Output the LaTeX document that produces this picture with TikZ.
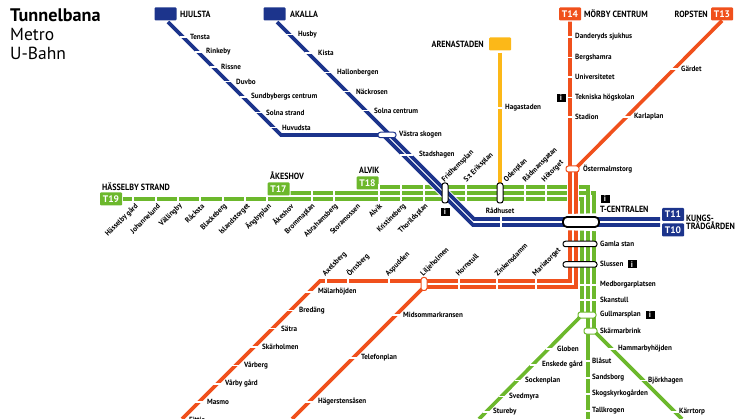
\documentclass[tikz,border=0pt]{standalone}
\usepackage{fontspec}
\setmainfont{PT Sans}
\newfontfamily\narrowfont[FakeStretch=0.9]{PT Sans}
\newfontfamily\stationfont[FakeStretch=0.95]{PT Sans}
\usetikzlibrary{positioning,calc}
\definecolor{softblue}{RGB}{28,52,140}
\definecolor{softgreen}{RGB}{108,184,44}
\definecolor{softred}{RGB}{240,80,28}
\definecolor{softyellow}{RGB}{252,184,24}
\tikzset{
  metro/.style={line width=3.6pt},
  casing/.style={white,line width=5.6pt},
  tick/.style={white,line width=1.1pt},
  stn/.style={font=\stationfont\fontsize{7.5}{8}\selectfont\bfseries,inner sep=0pt,text=black},
  term/.style={font=\narrowfont\fontsize{9}{9}\selectfont\bfseries,inner sep=0pt,text=black},
  tbox/.style={rounded corners=1pt,minimum width=22pt,minimum height=13pt,inner sep=0pt,
    text=white,font=\fontsize{9.5}{10}\selectfont\bfseries},
  capsule/.style={draw=black,fill=white,line width=1pt,rounded corners=2.4pt,inner sep=0pt},
  infoicon/.style={fill=black,text=white,minimum width=9pt,minimum height=8pt,inner sep=0pt,
    font=\fontsize{8}{8}\selectfont\bfseries}
}
\begin{document}
\begin{tikzpicture}[x=1pt,y=-1pt]
\useasboundingbox (0,0) rectangle (746,419);

% Title
\node[anchor=west,inner sep=0pt,font=\fontsize{18.2}{20}\selectfont\bfseries] (title) at (10,15) {Tunnelbana};
\node[anchor=west,inner sep=0pt,font=\fontsize{17.5}{20}\selectfont] (title2) at (10,34) {Metro};
\node[anchor=west,inner sep=0pt,font=\fontsize{17.5}{20}\selectfont] (title3) at (10,53) {U-Bahn};

% End stations
\node[tbox,fill=softblue] (hjulsta) at (165.5,14) {};
\node[tbox,fill=softblue] (akalla) at (274.5,14) {};
\node[tbox,fill=softyellow] (arena) at (500,44) {};
\node[tbox,fill=softred] (t14) at (570,14) {T14};
\node[tbox,fill=softred] (t13) at (722,14) {T13};
\node[tbox,fill=softgreen] (t19) at (111,199) {T19};
\node[tbox,fill=softgreen] (t17) at (278.5,189) {T17};
\node[tbox,fill=softgreen] (t18) at (367.5,183) {T18};
\node[tbox,fill=softblue] (t11) at (673,214.5) {T11};
\node[tbox,fill=softblue] (t10) at (673,230) {T10};

% Bends
\coordinate (hjA) at (168,22);
\coordinate (hjB) at (281,135);
\coordinate (hjC) at (383,135);
\coordinate (hjD) at (473,225);
\coordinate (akA) at (277,22);
\coordinate (akB) at (474,219);
\coordinate (gnA) at (588,187);
\coordinate (gnB) at (594,193);
\coordinate (gnC) at (582,199);
\coordinate (gnD) at (582,315);
\coordinate (gnE) at (588,315);
\coordinate (gnF) at (594,331);
\coordinate (gnG) at (479,419);
\coordinate (gnH) at (588,419);
\coordinate (gnI) at (682,419);
\coordinate (redA) at (570,281);
\coordinate (redB) at (576,287);
\coordinate (redC) at (320,281);
\coordinate (redD) at (182,419);
\coordinate (redE) at (424,287);
\coordinate (redF) at (292,419);
\coordinate (redG) at (576,168);

% Green lines
\draw[softgreen,metro] (t19.east) ++(1,0) -- (gnC) -- (gnD) -- (gnG);
\draw[softgreen,metro] (t17.east) ++(1,4) -- (gnB) -- (gnF) -- (gnI);
\draw[casing,line width=5pt] (588,190) -- (588,197);
\draw[softgreen,metro] (t18.east) ++(1,4) -- (gnA) -- (gnE) -- (gnH);

% Yellow line
\draw[softyellow,metro] (arena.south) ++(0,2) -- (500,185);

% Green and yellow station gaps
\foreach \gx in {133,156,178,200,223,245,267} \draw[tick] (\gx,196) -- (\gx,202);
\foreach \gx in {312,334} \draw[tick] (\gx,190) -- (\gx,202);
\foreach \gx in {379,401,424,466,525,546} \draw[tick] (\gx,184.5) -- (\gx,202);
\foreach \gy in {285,300} \draw[tick] (579,\gy) -- (597,\gy);
\draw[tick] (497,108) -- (503,108);

% Red lines
\draw[casing] (570,180) -- (570,278);
\draw[casing] (576,172) -- (576,284);
\draw[softred,metro] (t14.south) ++(0,1) -- (redA) -- (redC) -- (redD);
\draw[softred,metro] (t13.south) -- (redG) -- (redB) -- (redE) -- (redF);

% Red station gaps
\foreach \gx in {326,348,389} \draw[tick] (\gx,278) -- (\gx,284);
\foreach \gx in {459,497,536} \draw[tick] (\gx,278) -- (\gx,290);

% Blue lines
\draw[casing] (akA) ++(150,150) -- (akB) -- (t11.west);
\draw[casing] (hjC) ++(40,40) -- (hjD) -- (t10.west);
\draw[softblue,metro] (hjulsta) ++(2.5,8) -- (hjB) -- (hjC) -- (hjD) -- (660,225);
\draw[softblue,metro] (akalla) ++(2.5,8) -- (akB) -- (660,219);
\draw[tick] (400,155) -- (413,155);
\draw[tick] (501,216) -- (501,228);

% Stations on the Hjulsta branch
\foreach \sx/\sy/\sname [count=\i] in {190/37/Tensta,206/52/Rinkeby,221/67/Rissne,236/81.5/Duvbo,
    251/97/Sundbybergs centrum,266/112.5/Solna strand,282/127.5/Huvudsta}{
  \pgfmathsetmacro\tx{146+\sy}
  \draw[tick] (\tx-3.5,\sy) -- (\tx+5,\sy);
  \node[stn,anchor=west] (hj\i) at (\sx,\sy) {\sname};
}
% Stations on the Akalla branch
\foreach \sx/\sy/\sname [count=\i] in {298/34.5/Husby,318/53/Kista,337/72.5/Hallonbergen,356/91.5/Näckrosen,374/110.5/Solna centrum}{
  \pgfmathsetmacro\tx{255+\sy}
  \draw[tick] (\tx-3.5,\sy) -- (\tx+5,\sy);
  \node[stn,anchor=west] (ak\i) at (\sx,\sy) {\sname};
}
\node[stn,anchor=west] (vastra) at (399,135) {Västra skogen};
\node[stn,anchor=west] (stadshagen) at (419,155) {Stadshagen};
\node[stn] (radhuset) at (500,211) {Rådhuset};

% Stations T14
\foreach \sy/\sname [count=\i] in {37/Danderyds sjukhus,57.5/Bergshamra,77/Universitetet,97.5/Tekniska högskolan,117/Stadion}{
  \draw[tick] (567,\sy) -- (574,\sy);
  \node[stn,anchor=west] (mo\i) at (575,\sy) {\sname};
}
\node[stn,anchor=west] (haga) at (505,108) {Hagastaden};
% Stations T13
\foreach \sx/\sy/\sname [count=\i] in {681/69/Gärdet,634/117/Karlaplan}{
  \pgfmathsetmacro\tx{743-\sy}
  \draw[tick] (\tx-4,\sy) -- (\tx+5,\sy);
  \node[stn,anchor=west] (ro\i) at (\sx,\sy) {\sname};
}
\node[stn,anchor=west] (ostermalm) at (583,169) {Östermalmstorg};

% Green stations, west
\foreach \sx/\sname [count=\i] in {137/Hässelby gård,159/Johannelund,181/Vällingby,203/Råcksta,226/Blackeberg,249/Islandstorget,270/Ängbyplan,
    292/Åkeshov,314/Brommaplan,337/Abrahamsberg,359/Storamossen,381/Alvik,405/Kristineberg,427/Thorildsplan}{
  \node[stn,anchor=east,rotate=45] (gn\i) at (\sx,205) {\sname};
}
\foreach \sx/\sname [count=\i] in {443/Fridhemsplan,465/S:t Eriksplan,505/Odenplan,524/Rådmansgatan,543/Hötorget}{
  \node[stn,anchor=west,rotate=45] (in\i) at (\sx,181) {\sname};
}

% Red stations, south west
\foreach \sx/\sname [count=\i] in {324/Axelsberg,348/Örnsberg,387/Aspudden,422/Liljeholmen,457/Hornstull,496/Zinkensdamm,534/Mariatorget}{
  \node[stn,anchor=west,rotate=45] (ax\i) at (\sx,275) {\sname};
}
\foreach \sx/\sy/\sname [count=\i] in {318/292/Mälarhöjden,299/310.5/Bredäng,281/328.5/Sätra,262/347/Skärholmen,244/365.5/Vårberg,225/384/Vårby gård,207/402/Masmo,189/421/Fittja}{
  \pgfmathsetmacro\tx{601-\sy}
  \draw[tick] (\tx-4,\sy) -- (\tx+5,\sy);
  \node[stn,anchor=west] (ma\i) at (\sx,\sy) {\sname};
}
\foreach \sx/\sy/\sname [count=\i] in {403/315/Midsommarkransen,361/358/Telefonplan,318/402/Hägerstensåsen}{
  \pgfmathsetmacro\tx{711-\sy}
  \draw[tick] (\tx-4,\sy) -- (\tx+5,\sy);
  \node[stn,anchor=west] (li\i) at (\sx,\sy) {\sname};
}

% Stations from the centre to the south
\foreach \sy/\sname [count=\i] in {244/Gamla stan,264/Slussen,284.5/Medborgarplatsen,299.5/Skanstull,315/Gullmarsplan,331/Skärmarbrink}{
  \node[stn,anchor=west] (ce\i) at (600,\sy) {\sname};
}
\foreach \sx/\sy/\sname [count=\i] in {557/349/Globen,542/365/Enskede gård,525/380.5/Sockenplan,509/396.5/Svedmyra,493/412/Stureby}{
  \pgfmathsetmacro\tx{899-\sy}
  \draw[tick] (\tx-4,\sy) -- (\tx+4,\sy);
  \node[stn,anchor=west] (gl\i) at (\sx,\sy) {\sname};
}
\foreach \sy/\sname [count=\i] in {361/Blåsut,378/Sandsborg,394/Skogskyrkogården,411/Tallkrogen}{
  \draw[tick] (585,\sy) -- (591,\sy);
  \node[stn,anchor=west] (bl\i) at (592,\sy) {\sname};
}
\foreach \sx/\sy/\sname [count=\i] in {618/349/Hammarbyhöjden,648/380.5/Björkhagen,679/412/Kärrtorp}{
  \pgfmathsetmacro\tx{\sy+262}
  \draw[tick] (\tx-4,\sy) -- (\tx+6,\sy);
  \node[stn,anchor=west] (ha\i) at (\sx,\sy) {\sname};
}

% Interchanges
\node[capsule,minimum width=18pt,minimum height=5.5pt,draw=softblue] (cVastra) at (387,135) {};
\node[capsule,minimum width=6pt,minimum height=20pt] (cFrid) at (445,193) {};
\node[capsule,minimum width=6pt,minimum height=20pt] (cOden) at (500,193) {};
\node[capsule,minimum width=13pt,minimum height=6pt,draw=softred] (cOster) at (572.5,169) {};
\node[capsule,minimum width=6pt,minimum height=13pt,draw=softred] (cLilje) at (424,284) {};
\node[capsule,minimum width=36pt,minimum height=10pt,line width=1.8pt,rounded corners=4pt] (cCentral) at (581,222) {};
\node[capsule,minimum width=34pt,minimum height=5.5pt] (cGamla) at (580,244) {};
\node[capsule,minimum width=34pt,minimum height=5.5pt] (cSlussen) at (580,264.5) {};
\node[capsule,minimum width=18pt,minimum height=6pt,draw=softgreen] (cGullmars) at (587,315) {};
\node[capsule,minimum width=13pt,minimum height=6pt,draw=softgreen] (cSkarm) at (590.5,331) {};

% Info signs
\node[infoicon] (i1) at (561,98) {i};
\node[infoicon] (i2) at (445,212) {i};
\node[infoicon] (i3) at (605,199) {i};
\node[infoicon] (i4) at (632,264.5) {i};
\node[infoicon] (i5) at (650,315) {i};

% End station names
\node[term,anchor=west] (nHjulsta) at (180,14) {HJULSTA};
\node[term,anchor=west] (nAkalla) at (290,14) {AKALLA};
\node[term,anchor=east] (nArena) at (484,44) {ARENASTADEN};
\node[term,anchor=west] (nMorby) at (584,14) {MÖRBY CENTRUM};
\node[term,anchor=east] (nRopsten) at (708,14) {ROPSTEN};
\node[term,anchor=west] (nHasselby) at (102,186.5) {HÄSSELBY STRAND};
\node[term,anchor=west] (nAkeshov) at (270,176) {ÅKESHOV};
\node[term,anchor=west] (nAlvik) at (359,170) {ALVIK};
\node[term,anchor=west] (nCentral) at (600,209) {T-CENTRALEN};
\node[term,anchor=west] (nKungs) at (686,218) {KUNGS-};
\node[term,anchor=west] (nTrad) at (686,226) {TRÄDGÅRDEN};
\end{tikzpicture}
\end{document}
